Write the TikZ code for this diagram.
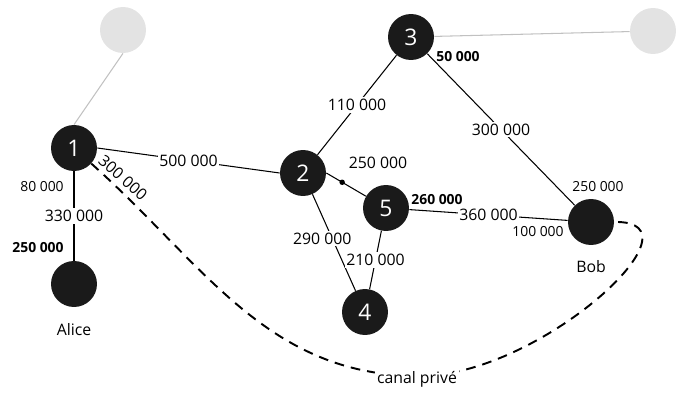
\documentclass[tikz,border=0pt]{standalone}
\usepackage{fontspec}
\setmainfont{Open Sans}
\usetikzlibrary{positioning}
\definecolor{dark}{HTML}{1A1A1A}
\definecolor{ghost}{HTML}{E3E3E3}

\begin{document}
\begin{tikzpicture}[x=0.02cm,y=-0.02cm,
	peer/.style={circle,fill=dark,text=white,minimum size=0.92cm,inner sep=0pt,font=\fontsize{13}{13}\selectfont},
	faded/.style={circle,fill=ghost,minimum size=0.92cm,inner sep=0pt},
	chan/.style={draw=black,line width=0.6pt},
	fchan/.style={draw=ghost!85!black,line width=0.6pt},
	private/.style={draw=black,line width=1.1pt,dash pattern=on 5.5pt off 4pt},
	capa/.style={fill=white,inner sep=1pt,font=\fontsize{9}{9}\selectfont},
	side/.style={inner sep=0pt,font=\fontsize{7.9}{8}\selectfont},
	local/.style={inner sep=0pt,font=\fontsize{7.9}{8}\selectfont\bfseries}]
	\useasboundingbox (0,0) rectangle (690,405);

	\node[faded] (ghost1) at (123,30) {};
	\node[faded] (ghost2) at (653,31) {};
	\node[peer] (node1) at (74,148) {1};
	\node[peer] (alice) at (74,284) {};
	\node[peer] (node2) at (303,173) {2};
	\node[peer] (node3) at (411,37) {3};
	\node[peer] (node4) at (365,312) {4};
	\node[peer] (node5) at (386,208) {5};
	\node[peer] (bob) at (591,222) {};
	\node (alicename) at (74,330) {\fontsize{9}{9}\selectfont Alice};
	\node (bobname) at (591,267) {\fontsize{9}{9}\selectfont Bob};

	\draw [fchan] (node1.north) to (ghost1.south);
	\draw [fchan] (node3) to (ghost2);
	\draw [chan] (node1.east) to node[capa] {500 000} (node2.west);
	\draw [chan] (node1) to node[capa] {330 000} (alice);
	\draw [chan] (node2) to node[capa] {110 000} (node3);
	\draw [chan] (node3) to node[capa] {300 000} (bob);
	\draw [chan] (node2.east) to node[pos=0.4,circle,fill=black,inner sep=1.1pt] (dot25) {} (node5);
	\draw [chan] (node2) to node[capa,pos=0.46,xshift=-0.2cm] {290 000} (node4);
	\draw [chan] (node5) to node[capa] {210 000} (node4);
	\draw [chan] (node5) to node[capa] {360 000} (bob);

	% private channel from 1 to Bob
	\coordinate (dip) at (420,376);
	\draw [private] (node1.-42) .. controls (205,265) and (267,376) .. (dip)
		.. controls (540,376) and (710,220) .. (bob.east);
	\node[capa] (privlabel) at (417,379) {canal privé};
	\node[inner sep=0pt,rotate=-41.5,font=\fontsize{9}{9}\selectfont] (l300) at (123,178) {300 000};

	% balances
	\node[side] (b80) at (42,187) {80 000};
	\node[local] (b250a) at (38,248) {250 000};
	\node[local] (b50) at (458,57) {50 000};
	\node[side] (b250b) at (598,187) {250 000};
	\node[side] (b100) at (538,232) {100 000};
	\node[local] (b260) at (437,200) {260 000};
	\node[font=\fontsize{9}{9}\selectfont,inner sep=0pt] (c250) at (378,163) {250 000};
\end{tikzpicture}
\end{document}
